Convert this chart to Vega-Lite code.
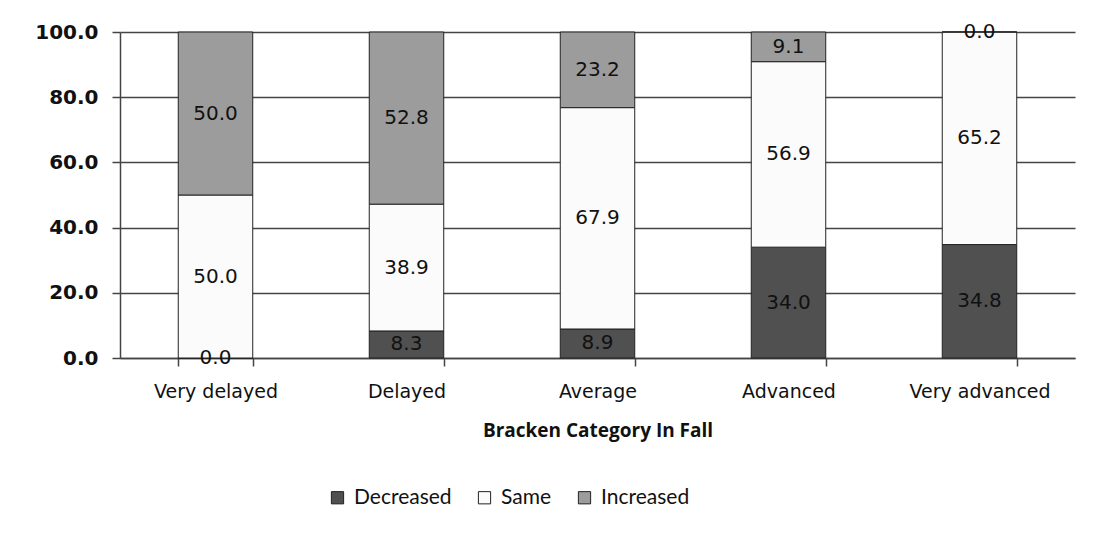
{
  "$schema": "https://vega.github.io/schema/vega-lite/v6.json",
  "autosize": "none",
  "width": 955,
  "height": 326,
  "padding": {"left": 120, "top": 32, "right": 19, "bottom": 177},
  "background": "white",
  "config": {
    "view": {"stroke": null},
    "font": "DejaVu Sans"
  },
  "data": {
    "values": [
      {"category": "Very delayed", "series": "Decreased", "order": 1, "value": 0.0},
      {"category": "Very delayed", "series": "Same", "order": 2, "value": 50.0},
      {"category": "Very delayed", "series": "Increased", "order": 3, "value": 50.0},
      {"category": "Delayed", "series": "Decreased", "order": 1, "value": 8.3},
      {"category": "Delayed", "series": "Same", "order": 2, "value": 38.9},
      {"category": "Delayed", "series": "Increased", "order": 3, "value": 52.8},
      {"category": "Average", "series": "Decreased", "order": 1, "value": 8.9},
      {"category": "Average", "series": "Same", "order": 2, "value": 67.9},
      {"category": "Average", "series": "Increased", "order": 3, "value": 23.2},
      {"category": "Advanced", "series": "Decreased", "order": 1, "value": 34.0},
      {"category": "Advanced", "series": "Same", "order": 2, "value": 56.9},
      {"category": "Advanced", "series": "Increased", "order": 3, "value": 9.1},
      {"category": "Very advanced", "series": "Decreased", "order": 1, "value": 34.8},
      {"category": "Very advanced", "series": "Same", "order": 2, "value": 65.2},
      {"category": "Very advanced", "series": "Increased", "order": 3, "value": 0.0}
    ]
  },
  "transform": [
    {"stack": "value", "groupby": ["category"], "sort": [{"field": "order", "order": "ascending"}], "as": ["v0", "v1"]},
    {"calculate": "(datum.v0 + datum.v1) / 2", "as": "mid"}
  ],
  "encoding": {
    "x": {
      "field": "category",
      "type": "nominal",
      "sort": ["Very delayed", "Delayed", "Average", "Advanced", "Very advanced"],
      "scale": {"paddingInner": 0.61, "paddingOuter": 0.305},
      "axis": {
        "title": "Bracken Category In Fall",
        "titleFont": "Open Sans",
        "titleFontSize": 19,
        "titleFontWeight": "bold",
        "titleColor": "#111",
        "titlePadding": 20,
        "labelAngle": 0,
        "labelFont": "DejaVu Sans",
        "labelFontSize": 19,
        "labelColor": "#111",
        "labelPadding": 16,
        "tickBand": "extent",
        "tickSize": 8,
        "tickColor": "#444",
        "tickWidth": 1.5,
        "domainColor": "#444",
        "domainWidth": 1.5
      }
    }
  },
  "layer": [
    {
      "mark": {"type": "bar", "stroke": "#222", "strokeWidth": 1},
      "encoding": {
        "y": {
          "field": "v0",
          "type": "quantitative",
          "scale": {"domain": [0, 100], "nice": false},
          "axis": {
            "title": null,
            "values": [0, 20, 40, 60, 80, 100],
            "format": ".1f",
            "labelFont": "DejaVu Sans",
            "labelFontSize": 20,
            "labelFontWeight": "bold",
            "labelColor": "#111",
            "labelPadding": 14,
            "tickSize": 8,
            "tickColor": "#444",
            "tickWidth": 1.5,
            "grid": true,
            "gridColor": "#444",
            "gridWidth": 1.5,
            "domainColor": "#444",
            "domainWidth": 1.5
          }
        },
        "y2": {"field": "v1"},
        "color": {
          "field": "series",
          "type": "nominal",
          "scale": {"domain": ["Decreased", "Same", "Increased"], "range": ["#505050", "#fbfbfb", "#9c9c9c"]},
          "legend": {
            "title": null,
            "orient": "none",
            "direction": "horizontal",
            "legendX": 207,
            "legendY": 455,
            "symbolType": "square",
            "symbolSize": 150,
            "symbolStrokeColor": "#222",
            "symbolStrokeWidth": 1,
            "labelFont": "Lato",
            "labelFontSize": 21,
            "labelColor": "#111",
            "columnPadding": 22,
            "labelOffset": 6
          }
        }
      }
    },
    {
      "mark": {"type": "text", "font": "DejaVu Sans", "fontSize": 20, "color": "#111", "baseline": "middle", "align": "center"},
      "encoding": {
        "y": {"field": "mid", "type": "quantitative"},
        "text": {"field": "value", "type": "quantitative", "format": ".1f"}
      }
    }
  ]
}
